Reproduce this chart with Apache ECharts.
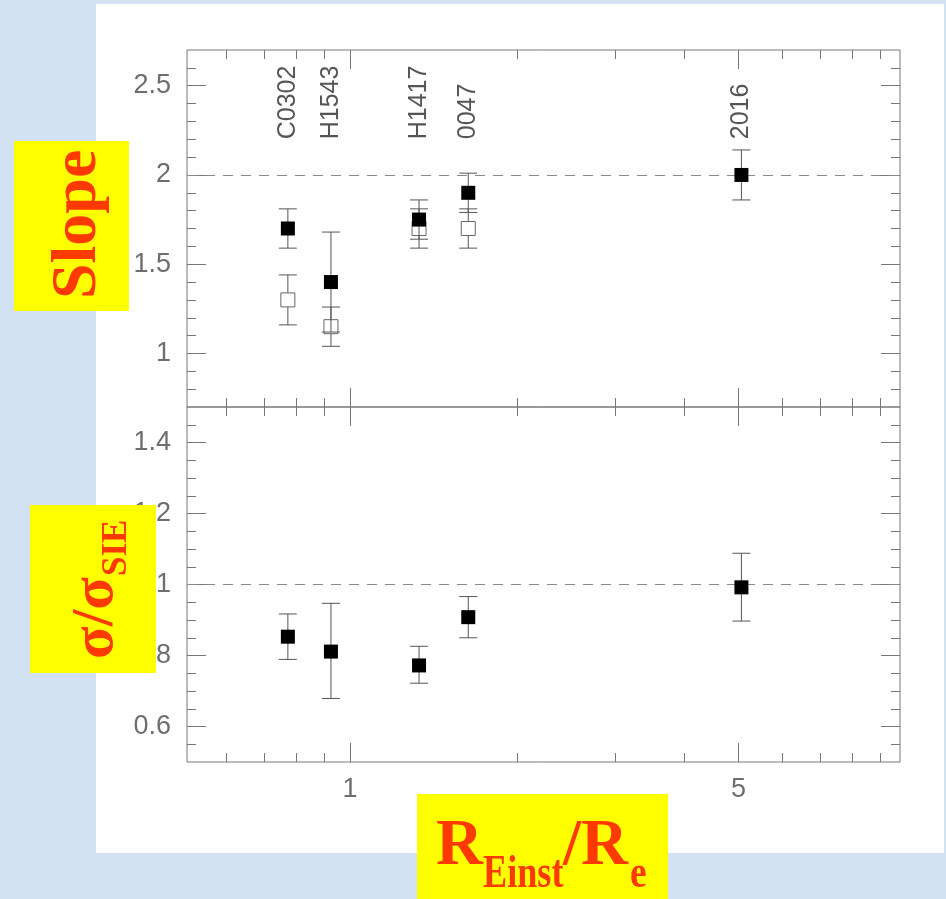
<!DOCTYPE html>
<html>
<head>
<meta charset="utf-8">
<script src="https://cdn.jsdelivr.net/npm/echarts@6/dist/echarts.min.js"></script>
<style>
html,body{margin:0;padding:0;background:#d3e2f2;}
#c{width:946px;height:899px;}
</style>
</head>
<body>
<div id="c"></div>
<script>
// ---- data ----
const names = ['C0302', 'H1543', 'H1417', '0047', '2016'];
const xRatio = [0.773, 0.924, 1.331, 1.632, 5.06];           // R_Einst / R_e

const slopeFilled   = [1.70, 1.40, 1.75, 1.90, 2.00];
const slopeFilledLo = [1.59, 1.12, 1.64, 1.79, 1.86];
const slopeFilledHi = [1.81, 1.68, 1.86, 2.01, 2.14];

const slopeOpen   = [1.30, 1.15, 1.70, 1.70];
const slopeOpenLo = [1.16, 1.04, 1.59, 1.59];
const slopeOpenHi = [1.44, 1.26, 1.81, 1.81];

const sigma   = [0.853, 0.811, 0.772, 0.908, 0.992];
const sigmaLo = [0.789, 0.679, 0.722, 0.850, 0.897];
const sigmaHi = [0.917, 0.947, 0.826, 0.966, 1.088];

const slopeRef = 2;
const sigmaRef = 1;
const nameLabelY = 2.2;

// axis ranges and ticks
const xMin = 0.509, xMax = 9.76;
const xMajor = [1, 5];
const xMinor = [0.6, 0.7, 0.8, 0.9, 2, 3, 4, 6, 7, 8, 9];
const xLabels = [1, 5];

const slopeMin = 0.7, slopeMax = 2.7;
const slopeMajor = [1, 1.5, 2, 2.5];
const slopeMinor = [0.8, 0.9, 1.1, 1.2, 1.3, 1.4, 1.6, 1.7, 1.8, 1.9, 2.1, 2.2, 2.3, 2.4, 2.6];

const sigmaMin = 0.5, sigmaMax = 1.5;
const sigmaMajor = [0.6, 0.8, 1, 1.2, 1.4];
const sigmaMinor = [0.55, 0.65, 0.7, 0.75, 0.85, 0.9, 0.95, 1.05, 1.1, 1.15, 1.25, 1.3, 1.35, 1.45];

// ---- styling ----
const TICK = '#777';
const LABEL = '#6e6e6e';
const RED = '#ff3a00';
const YEL = '#ffff00';
const fmt = v => String(+(+v).toFixed(2));

function xAx(g, pos, vals, len, labels) {
  return {
    type: 'log', logBase: 10, gridIndex: g, position: pos, min: xMin, max: xMax,
    axisLine: {show: false}, splitLine: {show: false}, minorTick: {show: false},
    axisTick: {show: true, inside: true, length: len, customValues: vals, lineStyle: {color: TICK, width: 1}},
    axisLabel: labels ? {show: true, customValues: labels, formatter: fmt, margin: 14,
      fontSize: 27, color: LABEL, fontFamily: 'Liberation Sans'} : {show: false}
  };
}
function yAx(g, pos, min, max, vals, len, labels) {
  return {
    type: 'value', gridIndex: g, position: pos, min: min, max: max,
    axisLine: {show: false}, splitLine: {show: false}, minorTick: {show: false},
    axisTick: {show: true, inside: true, length: len, customValues: vals, lineStyle: {color: TICK, width: 1}},
    axisLabel: labels ? {show: true, customValues: labels, formatter: fmt, margin: 16,
      fontSize: 27, color: LABEL, fontFamily: 'Liberation Sans'} : {show: false}
  };
}

const xAxes = [];
const yAxes = [];
[0, 1].forEach(g => {
  xAxes.push(xAx(g, 'bottom', xMajor, 19, g === 1 ? xLabels : null));
  xAxes.push(xAx(g, 'bottom', xMinor, 9, null));
  xAxes.push(xAx(g, 'top', xMajor, 19, null));
  xAxes.push(xAx(g, 'top', xMinor, 9, null));
  const mn = g === 0 ? slopeMin : sigmaMin, mx = g === 0 ? slopeMax : sigmaMax;
  const maj = g === 0 ? slopeMajor : sigmaMajor, mnr = g === 0 ? slopeMinor : sigmaMinor;
  yAxes.push(yAx(g, 'left', mn, mx, maj, 19, maj));
  yAxes.push(yAx(g, 'left', mn, mx, mnr, 9, null));
  yAxes.push(yAx(g, 'right', mn, mx, maj, 19, null));
  yAxes.push(yAx(g, 'right', mn, mx, mnr, 9, null));
});

function errItem(params, api) {
  const x = api.value(0);
  const lo = api.coord([x, api.value(1)]);
  const hi = api.coord([x, api.value(2)]);
  const w = 9;
  const style = {stroke: '#555', lineWidth: 1};
  return {type: 'group', children: [
    {type: 'line', shape: {x1: lo[0], y1: lo[1], x2: hi[0], y2: hi[1]}, style: style},
    {type: 'line', shape: {x1: lo[0] - w, y1: lo[1], x2: lo[0] + w, y2: lo[1]}, style: style},
    {type: 'line', shape: {x1: hi[0] - w, y1: hi[1], x2: hi[0] + w, y2: hi[1]}, style: style}
  ]};
}
function refLine(v) {
  return {symbol: 'none', silent: true, label: {show: false},
    lineStyle: {type: [10, 8], color: '#888', width: 1}, data: [{yAxis: v}]};
}

const series = [
  {type: 'custom', xAxisIndex: 0, yAxisIndex: 0, z: 2, renderItem: errItem, encode: {x: 0, y: [1, 2]},
   data: slopeOpen.map((v, i) => [xRatio[i], slopeOpenLo[i], slopeOpenHi[i]])},
  {type: 'scatter', xAxisIndex: 0, yAxisIndex: 0, z: 3, symbol: 'rect', symbolSize: 14,
   itemStyle: {color: '#fff', borderColor: '#666', borderWidth: 1, opacity: 1},
   data: slopeOpen.map((v, i) => [xRatio[i], v])},
  {type: 'custom', xAxisIndex: 0, yAxisIndex: 0, z: 4, renderItem: errItem, encode: {x: 0, y: [1, 2]},
   data: slopeFilled.map((v, i) => [xRatio[i], slopeFilledLo[i], slopeFilledHi[i]])},
  {type: 'scatter', xAxisIndex: 0, yAxisIndex: 0, z: 5, symbol: 'rect', symbolSize: 14,
   itemStyle: {color: '#000', opacity: 1}, markLine: refLine(slopeRef),
   data: slopeFilled.map((v, i) => [xRatio[i], v])},
  {type: 'scatter', xAxisIndex: 0, yAxisIndex: 0, z: 5, symbolSize: 0, silent: true,
   label: {show: true, position: 'inside', rotate: 90, align: 'left', verticalAlign: 'middle',
     formatter: p => names[p.dataIndex], fontSize: 25, color: '#2a2a2a', fontFamily: 'Liberation Sans'},
   data: names.map((n, i) => [xRatio[i], nameLabelY])},
  {type: 'custom', xAxisIndex: 4, yAxisIndex: 4, z: 4, renderItem: errItem, encode: {x: 0, y: [1, 2]},
   data: sigma.map((v, i) => [xRatio[i], sigmaLo[i], sigmaHi[i]])},
  {type: 'scatter', xAxisIndex: 4, yAxisIndex: 4, z: 5, symbol: 'rect', symbolSize: 14,
   itemStyle: {color: '#000', opacity: 1}, markLine: refLine(sigmaRef),
   data: sigma.map((v, i) => [xRatio[i], v])}
];

const serif = '"Liberation Serif", "Times New Roman", serif';
const graphic = [
  {type: 'rect', z: -100, shape: {x: 96, y: 4, width: 848, height: 849}, style: {fill: '#fff'}},
  // Slope
  {type: 'rect', z: 100, shape: {x: 14, y: 141, width: 115, height: 170}, style: {fill: YEL}},
  {type: 'text', z: 101, x: 78, y: 299, rotation: Math.PI / 2,
   style: {text: 'Slope', font: 'bold 64px ' + serif, fill: RED, align: 'left', verticalAlign: 'middle'}},
  // sigma / sigma_SIE
  {type: 'rect', z: 100, shape: {x: 30, y: 505, width: 126, height: 168}, style: {fill: YEL}},
  {type: 'text', z: 101, x: 96, y: 659, rotation: Math.PI / 2,
   style: {text: 'σ/σ', font: 'bold 60px ' + serif, fill: RED, align: 'left', verticalAlign: 'middle'}},
  {type: 'text', z: 101, x: 117, y: 576, rotation: Math.PI / 2,
   style: {text: 'SIE', font: 'bold 35px ' + serif, fill: RED, align: 'left', verticalAlign: 'middle'}},
  // R_Einst / R_e
  {type: 'rect', z: 100, shape: {x: 417, y: 794, width: 251, height: 110}, style: {fill: YEL}},
  {type: 'text', z: 101, x: 436, y: 847, style: {text: 'R', font: 'bold 65px ' + serif, fill: RED, align: 'left', verticalAlign: 'middle'}},
  {type: 'text', z: 101, x: 483, y: 875, scaleX: 0.77,
   style: {text: 'Einst', font: 'bold 47px ' + serif, fill: RED, align: 'left', verticalAlign: 'middle'}},
  {type: 'text', z: 101, x: 563, y: 847, style: {text: '/R', font: 'bold 65px ' + serif, fill: RED, align: 'left', verticalAlign: 'middle'}},
  {type: 'text', z: 101, x: 630, y: 875, scaleX: 0.8,
   style: {text: 'e', font: 'bold 47px ' + serif, fill: RED, align: 'left', verticalAlign: 'middle'}}
];

const chart = echarts.init(document.getElementById('c'), null, {renderer: 'canvas'});
chart.setOption({
  animation: false,
  backgroundColor: '#d3e2f2',
  grid: [
    {left: 187, top: 50, width: 713, height: 357, show: true, borderColor: '#777', borderWidth: 1, backgroundColor: 'transparent'},
    {left: 187, top: 407, width: 713, height: 355, show: true, borderColor: '#777', borderWidth: 1, backgroundColor: 'transparent'}
  ],
  xAxis: xAxes,
  yAxis: yAxes,
  series: series,
  graphic: graphic
});
</script>
</body>
</html>
